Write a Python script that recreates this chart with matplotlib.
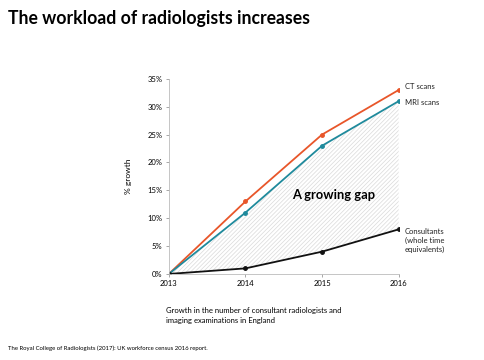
import matplotlib.pyplot as plt
import matplotlib as mpl
import numpy as np

years = [2013, 2014, 2015, 2016]
ct_scans = [0, 13, 25, 33]
mri_scans = [0, 11, 23, 31]
consultants = [0, 1, 4, 8]
yticks = [0, 5, 10, 15, 20, 25, 30, 35]

plt.rcParams['font.family'] = ['Lato', 'DejaVu Sans']
mpl.rcParams['hatch.color'] = '#dadada'
mpl.rcParams['hatch.linewidth'] = 0.5

fig = plt.figure(figsize=(4.85, 3.6), dpi=100)
ax = fig.add_axes([0.348, 0.239, 0.474, 0.542])

# shaded gap between scans and consultants
ax.fill_between(years, consultants, mri_scans, facecolor='white', hatch='////////',
                edgecolor='#dadada', linewidth=0)

ax.plot(years, ct_scans, color='#e8562a', linewidth=1.3, marker='o', markersize=2.5)
ax.plot(years, mri_scans, color='#1f8a9c', linewidth=1.3, marker='o', markersize=2.5)
ax.plot(years, consultants, color='#111111', linewidth=1.3, marker='o', markersize=2.5)

ax.set_xlim(2013, 2016)
ax.set_ylim(0, 35)
ax.set_xticks(years)
ax.set_yticks(yticks)
ax.set_yticklabels([str(v) + '%' for v in yticks])
ax.tick_params(labelsize=5.5, length=2.5, width=0.6, color='#999999', pad=2)
for s in ['top', 'right']:
    ax.spines[s].set_visible(False)
for s in ['left', 'bottom']:
    ax.spines[s].set_color('#bbbbbb')
    ax.spines[s].set_linewidth(0.6)
ax.set_ylabel('% growth', fontsize=6, labelpad=11)

# series labels at the right
ax.text(2016.08, ct_scans[-1] + 0.6, 'CT scans', fontsize=5.5, va='center', color='#222222')
ax.text(2016.08, mri_scans[-1] - 0.2, 'MRI scans', fontsize=5.5, va='center', color='#222222')
ax.text(2016.08, consultants[-1] + 0.2, 'Consultants\n(whole time\nequivalents)', fontsize=5.5,
        va='top', color='#222222', linespacing=1.3)
ax.text(2015.15, 14.1, 'A growing gap', fontsize=9.3, fontweight='bold', ha='center', va='center')

fig.text(0.017, 0.948, 'The workload of radiologists increases', fontsize=12.7, fontweight='bold',
         va='center')
fig.text(0.343, 0.125, 'Growth in the number of consultant radiologists and\nimaging examinations in England',
         fontsize=5.5, va='center', linespacing=1.5)
fig.text(0.017, 0.033, 'The Royal College of Radiologists (2017): UK workforce census 2016 report.',
         fontsize=4.3, va='center')

fig.savefig('out.png', dpi=100, facecolor='white')
